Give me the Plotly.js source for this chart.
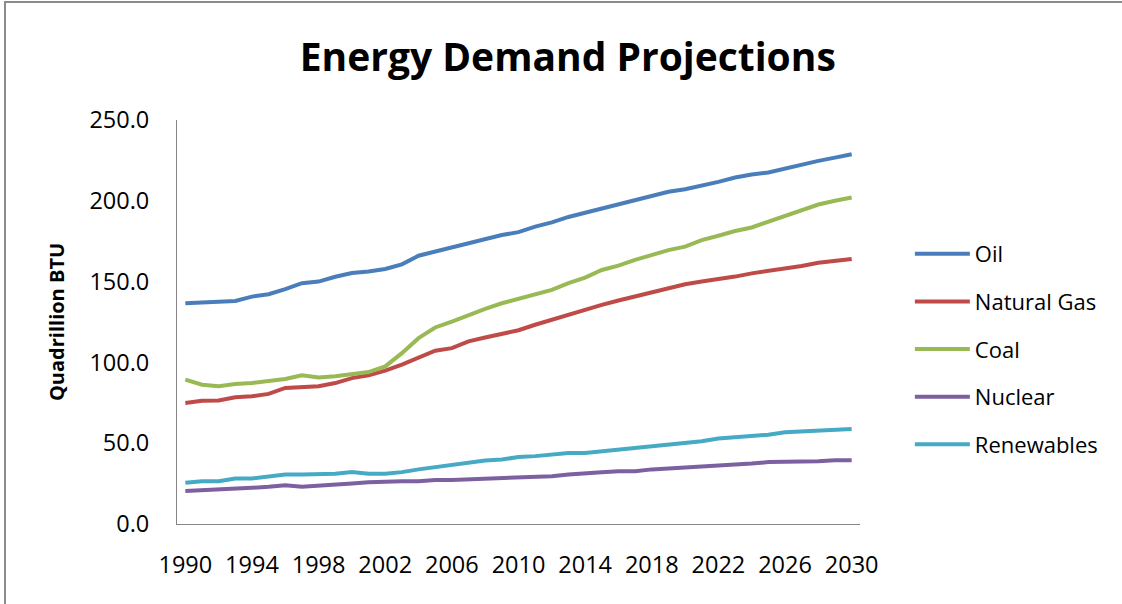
<!DOCTYPE html>
<html>
<head>
<meta charset="utf-8">
<script src="https://cdn.plot.ly/plotly-3.0.1.min.js"></script>
<style>
  html, body { margin: 0; padding: 0; background: #ffffff; }
  #wrap { position: relative; width: 1122px; height: 604px; overflow: hidden; }
  #chart { position: absolute; left: 0; top: 0; width: 1122px; height: 604px; }
  #frame { position: absolute; left: 4px; top: 1px; width: 1130px; height: 620px;
           border-left: 2px solid #8c8c8c; border-top: 2px solid #8c8c8c; pointer-events: none; }
</style>
</head>
<body>
<div id="wrap">
  <div id="chart"></div>
  <div id="frame"></div>
</div>
<script>
const years = [];
for (let y = 1990; y <= 2030; y++) years.push(y);

const oil = [136.6, 137.0, 137.7, 138.0, 140.7, 142.2, 145.3, 149.0, 150.0, 153.0,
             155.3, 156.2, 157.8, 160.7, 166.0, 168.5, 171.6, 173.7, 176.3, 178.8,
             180.6, 184.0, 186.6, 190.0, 192.6, 195.3, 197.7, 200.2, 202.9, 205.6,
             207.2, 209.3, 211.7, 214.4, 216.3, 217.5, 220.0, 222.6, 224.7, 226.7, 228.8];
const naturalGas = [74.9, 76.3, 76.5, 78.4, 79.0, 80.5, 84.2, 84.6, 85.2, 87.2,
                    90.3, 92.0, 94.9, 98.6, 103.1, 107.2, 108.8, 113.0, 115.4, 117.7,
                    119.9, 123.3, 126.4, 129.8, 132.5, 135.6, 138.3, 140.7, 143.4, 145.9,
                    148.4, 150.0, 151.4, 153.1, 155.1, 156.6, 157.8, 159.7, 161.7, 163.0, 164.0];
const coal = [89.3, 86.2, 85.2, 86.6, 87.2, 88.3, 89.7, 92.0, 90.7, 91.4,
              92.4, 94.0, 97.5, 105.7, 115.0, 121.6, 125.3, 129.4, 133.1, 136.6,
              139.2, 141.8, 144.9, 149.0, 152.5, 157.2, 159.9, 163.4, 166.5, 169.5,
              171.6, 175.7, 178.4, 181.3, 183.5, 187.0, 190.5, 194.2, 197.7, 200.0, 202.0];
const nuclear = [20.4, 20.8, 21.0, 21.8, 22.4, 23.0, 23.9, 23.0, 23.9, 24.5,
                 25.1, 25.9, 26.5, 26.5, 26.5, 27.2, 27.2, 27.6, 28.0, 28.0,
                 28.6, 29.0, 29.6, 30.7, 31.1, 32.1, 32.7, 32.7, 33.8, 34.4,
                 35.2, 35.8, 35.8, 36.8, 37.4, 38.3, 38.3, 38.9, 38.9, 39.5, 39.5];
const renewables = [25.5, 26.5, 26.5, 28.2, 28.2, 29.6, 30.7, 30.7, 30.7, 31.1,
                    32.1, 31.1, 31.1, 32.1, 33.8, 35.2, 36.8, 37.9, 39.3, 39.9,
                    41.4, 42.0, 43.0, 44.0, 44.0, 45.0, 46.1, 47.1, 48.1, 48.8,
                    49.6, 51.2, 52.9, 53.7, 54.3, 55.3, 56.8, 57.4, 57.8, 58.4, 58.8];

const seriesNames = ['Oil', 'Natural Gas', 'Coal', 'Nuclear', 'Renewables'];
const seriesValues = [oil, naturalGas, coal, nuclear, renewables];
const seriesColors = ['#4a7ebb', '#be4b48', '#98b954', '#7d60a0', '#46aac5'];

const xTickVals = [1990, 1994, 1998, 2002, 2006, 2010, 2014, 2018, 2022, 2026, 2030];
const yTickVals = [0, 50, 100, 150, 200, 250];
const yTickText = ['0.0', '50.0', '100.0', '150.0', '200.0', '250.0'];

const traces = seriesNames.map((name, i) => ({
  x: years,
  y: seriesValues[i],
  name: name,
  type: 'scatter',
  mode: 'lines',
  legendgroup: 'g' + i,
  line: { color: seriesColors[i], width: 4 }
}));

const font = 'Open Sans, sans-serif';

const layout = {
  width: 1122,
  height: 604,
  paper_bgcolor: '#ffffff',
  plot_bgcolor: '#ffffff',
  margin: { l: 177, r: 262, t: 120, b: 80 },
  title: {
    text: 'Energy Demand Projections',
    font: { family: font, size: 39, color: '#000000', weight: 'bold' },
    x: 0.506, xanchor: 'center',
    y: 0.905, yanchor: 'middle', yref: 'container'
  },
  xaxis: {
    range: [1989.5, 2030.5],
    tickvals: xTickVals,
    ticktext: xTickVals.map(String),
    tickfont: { family: font, size: 23.5, color: '#000000' },
    showgrid: false,
    zeroline: false,
    showline: true,
    linecolor: '#868686',
    linewidth: 1,
    ticks: '',
    ticklabelstandoff: 20,
    fixedrange: true
  },
  yaxis: {
    range: [0, 250],
    tickvals: yTickVals,
    ticktext: yTickText,
    tickfont: { family: font, size: 23.5, color: '#000000' },
    showgrid: false,
    zeroline: false,
    showline: true,
    linecolor: '#868686',
    linewidth: 1,
    ticks: '',
    ticklabelstandoff: 22,
    title: {
      text: 'Quadrillion BTU',
      font: { family: font, size: 20, color: '#000000', weight: 'bold' },
      standoff: 19
    },
    fixedrange: true
  },
  showlegend: true,
  legend: {
    x: 1.073, xanchor: 'left',
    y: 0.433, yanchor: 'middle',
    font: { family: font, size: 22, color: '#000000' },
    tracegroupgap: 16,
    itemwidth: 55,
    bgcolor: 'rgba(0,0,0,0)'
  }
};

Plotly.newPlot('chart', traces, layout, { displayModeBar: false, staticPlot: true }).then(gd => {
  gd.querySelectorAll('.legend .legendlines path').forEach(p => {
    p.setAttribute('d', 'M5,0h55');
    p.style.strokeWidth = '4px';
  });
});
</script>
</body>
</html>
